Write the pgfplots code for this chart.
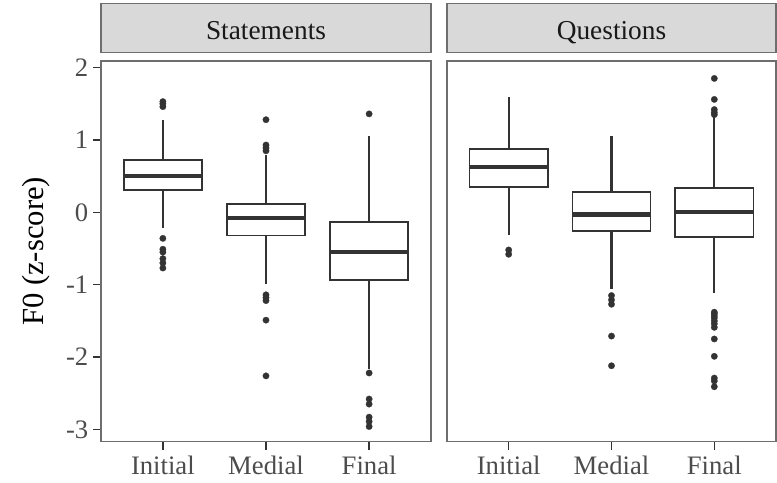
\documentclass[border=0pt]{standalone}
\usepackage{fontspec}
\setmainfont{Liberation Serif}
\usepackage{pgfplots}
\pgfplotsset{compat=1.18}
\usepgfplotslibrary{statistics}
\definecolor{stripfill}{HTML}{D9D9D9}
\definecolor{framec}{HTML}{6E6E6E}
\definecolor{boxc}{HTML}{333333}
\pgfplotsset{
  panel/.style={
    scale only axis, height=285.5pt,
    anchor=south west,
    xmin=0.4, xmax=3.6, ymin=-3.17, ymax=2.09,
    xtick={1,2,3}, xticklabels={Initial,Medial,Final},
    axis line style={draw=framec, line width=1pt},
    tick style={draw=boxc, line width=1pt},
    tick align=outside, major tick length=6pt,
    tick pos=left,
    x tick label style={font=\fontsize{20}{24}\selectfont, text=black!70, yshift=-1.5pt},
    y tick label style={font=\fontsize{20}{24}\selectfont, text=black!70},
    clip=false,
    title style={at={(0.5,1)}, anchor=south, fill=stripfill, draw=framec, line width=1pt,
      minimum height=36.75pt, inner sep=0pt, text height=17.3pt, text depth=0pt,
      font=\fontsize{20.5}{24}\selectfont, text=black!90},
    boxplot/draw direction=y,
    boxplot/box extend=0.76,
    boxplot/whisker extend=0,
    boxplot/every median/.style={line width=3.2pt},
    boxplot/every whisker/.style={line width=1.6pt},
    boxplot/every box/.style={line width=1.3pt},
  },
  bx/.style={draw=boxc, line width=1.3pt, fill=white, solid, mark=*, mark size=2.4pt,
    mark options={fill=boxc, draw=boxc, line width=0.2pt}},
}
\begin{document}
\begin{tikzpicture}
\path[use as bounding box] (0,0) rectangle (582.75pt,361.5pt);
% Statements panel
\begin{axis}[panel, at={(75.75pt,30.2pt)}, width=247.5pt,
  title={Statements}, title style={minimum width=247.5pt},
  ytick={-3,-2,-1,0,1,2}, yticklabels={-3,-2,-1,0,1,2},
  ylabel={F0 (z-score)},
  every axis y label/.style={at={(axis description cs:-0.197,0.5)}, anchor=center, rotate=90,
    font=\fontsize{23}{27}\selectfont, text=black},
]
\addplot[bx, boxplot prepared={draw position=1, lower whisker=-0.22, lower quartile=0.31,
  median=0.50, upper quartile=0.72, upper whisker=1.28}]
  coordinates {(0,1.53) (0,1.50) (0,1.46) (0,-0.36) (0,-0.51) (0,-0.55) (0,-0.64) (0,-0.70) (0,-0.77)};
\addplot[bx, boxplot prepared={draw position=2, lower whisker=-0.99, lower quartile=-0.32,
  median=-0.08, upper quartile=0.12, upper whisker=0.79}]
  coordinates {(0,1.28) (0,0.93) (0,0.89) (0,0.85) (0,-1.14) (0,-1.18) (0,-1.22) (0,-1.49) (0,-2.26)};
\addplot[bx, boxplot prepared={draw position=3, lower whisker=-2.17, lower quartile=-0.94,
  median=-0.55, upper quartile=-0.13, upper whisker=1.05}]
  coordinates {(0,1.36) (0,-2.22) (0,-2.58) (0,-2.65) (0,-2.83) (0,-2.89) (0,-2.96)};
\end{axis}
% Questions panel
\begin{axis}[panel, at={(335.25pt,30.2pt)}, width=246.75pt,
  title={Questions}, title style={minimum width=246.75pt},
  ytick=\empty,
]
\addplot[bx, boxplot prepared={draw position=1, lower whisker=-0.32, lower quartile=0.35,
  median=0.63, upper quartile=0.88, upper whisker=1.60}]
  coordinates {(0,-0.52) (0,-0.58)};
\addplot[bx, boxplot prepared={draw position=2, lower whisker=-1.06, lower quartile=-0.26,
  median=-0.03, upper quartile=0.28, upper whisker=1.06}]
  coordinates {(0,-1.15) (0,-1.21) (0,-1.27) (0,-1.71) (0,-2.12)};
\addplot[bx, boxplot prepared={draw position=3, lower whisker=-1.11, lower quartile=-0.34,
  median=0.00, upper quartile=0.34, upper whisker=1.33}]
  coordinates {(0,1.85) (0,1.56) (0,1.42) (0,1.38) (0,1.35) (0,-1.38) (0,-1.40) (0,-1.43) (0,-1.46) (0,-1.50) (0,-1.54) (0,-1.59) (0,-1.75) (0,-1.99) (0,-2.29) (0,-2.33) (0,-2.41)};
\end{axis}
\end{tikzpicture}
\end{document}
